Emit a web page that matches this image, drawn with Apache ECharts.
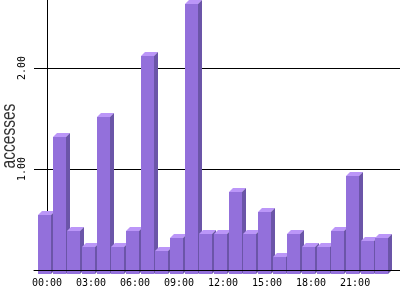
<!DOCTYPE html>
<html>
<head>
<meta charset="utf-8">
<script src="https://cdn.jsdelivr.net/npm/echarts@6/dist/echarts.min.js"></script>
<style>html,body{margin:0;padding:0;background:#fff}#c{width:400px;height:300px}</style>
</head>
<body>
<div id="c"></div>
<script>
const hourLabels = ['00:00','01:00','02:00','03:00','04:00','05:00','06:00','07:00','08:00','09:00','10:00','11:00',
  '12:00','13:00','14:00','15:00','16:00','17:00','18:00','19:00','20:00','21:00','22:00','23:00'];
const accesses = [0.584,1.356,0.426,0.267,1.554,0.267,0.426,2.158,0.228,0.356,2.673,0.396,
  0.396,0.812,0.396,0.614,0.168,0.396,0.267,0.267,0.426,0.970,0.327,0.356];
const xLabelValues = [0,3,6,9,12,15,18,21];
const yLabelValues = [1,2];

const chart = echarts.init(document.getElementById('c'), null, {renderer:'canvas'});
const monoFont = {fontFamily:'DejaVu Sans Mono', fontSize:10, color:'#000'};
chart.setOption({
  animation:false,
  backgroundColor:'#fff',
  grid:{left:34, right:0, top:0, bottom:30},
  xAxis:{
    type:'value', min:-0.886, max:24.06, z:3,
    axisLine:{show:true, lineStyle:{color:'#000', width:1}},
    axisTick:{show:false},
    splitLine:{show:false},
    axisLabel:Object.assign({customValues:xLabelValues, margin:8, formatter:v=>hourLabels[v]}, monoFont)
  },
  yAxis:{
    type:'value', min:0, max:Math.max(...accesses), interval:1, z:0,
    axisLine:{show:true, lineStyle:{color:'#000', width:1}},
    axisTick:{show:false},
    splitLine:{show:true, lineStyle:{color:['#000','#000','#000','rgba(0,0,0,0)'], width:1}},
    axisLabel:Object.assign({customValues:yLabelValues, rotate:90, margin:7, formatter:v=>v.toFixed(2)}, monoFont)
  },
  graphic:[{
    type:'text', x:9, y:136, rotation:Math.PI/2, scaleX:0.74,
    style:{text:'accesses', font:'21px "Liberation Sans"', fill:'#333', align:'center', verticalAlign:'middle'}
  }],
  series:[{
    type:'custom', z:2,
    data:accesses.map((v,i)=>[i,v]),
    encode:{x:0, y:1},
    renderItem(params, api){
      const i = api.value(0), v = api.value(1);
      const top = api.coord([i, v]);
      const base = api.coord([i, 0]);
      const u = api.size([1,0])[0];
      const d = 4;
      const w = Math.round(13/14.67*u);
      const bx = Math.round(top[0] - 5/14.67*u);
      const fx = bx - d;
      const fyTop = Math.round(top[1]) + d;
      const fyBase = Math.round(base[1]) + d;
      return {type:'group', children:[
        {type:'rect', shape:{x:fx, y:fyTop, width:w, height:fyBase-fyTop}, style:{fill:'#9370DB'}},
        {type:'polygon', shape:{points:[[fx,fyTop],[fx+w,fyTop],[fx+w+d,fyTop-d],[fx+d,fyTop-d]]}, style:{fill:'#BB96F8'}},
        {type:'polygon', shape:{points:[[fx+w,fyTop],[fx+w+d,fyTop-d],[fx+w+d,fyBase-d],[fx+w,fyBase]]}, style:{fill:'#6B55A8'}}
      ]};
    }
  }]
});
</script>
</body>
</html>
